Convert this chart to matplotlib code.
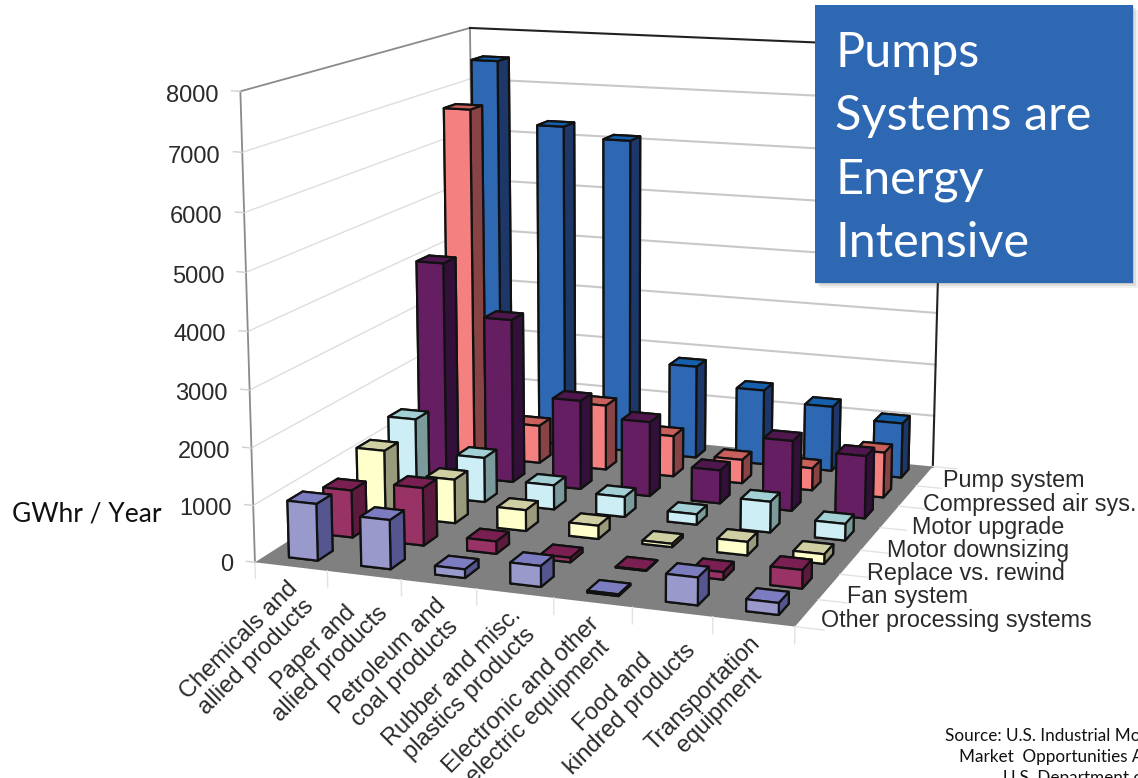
import numpy as np
import matplotlib
matplotlib.use('Agg')
import matplotlib.pyplot as plt
from mpl_toolkits.mplot3d import proj3d
from mpl_toolkits.mplot3d.art3d import Poly3DCollection

industries = ['Chemicals and\nallied products', 'Paper and\nallied products', 'Petroleum and\ncoal products',
              'Rubber and misc.\nplastics products', 'Electronic and other\nelectric equipment',
              'Food and\nkindred products', 'Transportation\nequipment']
systems = ['Other processing systems', 'Fan system', 'Replace vs. rewind', 'Motor downsizing',
           'Motor upgrade', 'Compressed air sys.', 'Pump system']

other_proc = [1000, 860, 150, 360, 30, 470, 200]
fan = [850, 1030, 220, 80, 10, 130, 320]
replace_rewind = [1200, 800, 380, 240, 60, 240, 170]
downsizing = [1430, 830, 450, 370, 190, 560, 300]
upgrade = [4070, 3100, 1680, 1400, 620, 1300, 1150]
comp_air = [6750, 730, 1250, 780, 450, 420, 850]
pump = [7500, 6300, 6100, 1800, 1450, 1250, 1050]
series = [other_proc, fan, replace_rewind, downsizing, upgrade, comp_air, pump]

front_cols = ['#9999cc', '#993366', '#ffffcc', '#cdeef5', '#661e63', '#f48080', '#2e68b3']
top_cols = ['#7c7cc0', '#7a1f52', '#cfcfa3', '#a3d0d4', '#50164e', '#c9605c', '#1560ad']
side_cols = ['#55558f', '#5c1a3c', '#99997c', '#7a9a9c', '#33103a', '#884444', '#1c3768']

W, H = 1138, 778
z_ticks = np.arange(0, 9000, 1000)
label_font = 'Liberation Sans'
label_col = '#2a2a2a'

fig = plt.figure(figsize=(W / 100, H / 100), dpi=100)
ax = fig.add_axes([34.9 / W, 84.49 / H, 1, 1], projection='3d', computed_zorder=False)
ax.set_xlim(0, 7, view_margin=0)
ax.set_ylim(0, 7, view_margin=0)
ax.set_zlim(0, 8000, view_margin=0)
ax.view_init(12.3625, -70.2147)
ax.set_proj_type('persp', focal_length=0.6188)
ax.set_box_aspect((1.1817, 1.1951, 1), zoom=1.1071)
ax.set_axis_off()


def plot_line(xs, ys, zs, col, lw, zo=2):
    ax.plot(xs, ys, zs, color=col, lw=lw, zorder=zo, clip_on=False)


# floor, wall grid and frame
floor = Poly3DCollection([[(0, 0, 0), (7, 0, 0), (7, 7, 0), (0, 7, 0)]], facecolor='#808080', edgecolor='none', zorder=1)
ax.add_collection3d(floor)
floor.set_clip_on(False)
for zt in z_ticks[1:-1]:
    plot_line([0, 0], [0, 7], [zt, zt], '#dedede', 1)
    plot_line([0, 7], [7, 7], [zt, zt], '#c8c8c8', 1.5)
plot_line([0, 0, 0], [0, 0, 7], [0, 8000, 8000], '#8a8a8a', 1.3)
plot_line([0, 0], [7, 7], [0, 8000], '#8a8a8a', 1.3)
plot_line([0, 7, 7], [7, 7, 7], [8000, 8000, 0], '#222222', 1.5)

# tick stubs around the floor
for i in range(8):
    plot_line([i, i], [0, 0], [0, -280], '#e2e2e2', 1)
for j in range(8):
    plot_line([7, 7.35], [j, j], [0, 0], '#e2e2e2', 1)
for zt in z_ticks:
    plot_line([0, -0.12], [0, 0], [zt, zt], '#d0d0d0', 1)

# back row first, left to right, so the nearer bars paint over the others
order = 3
for j in range(6, -1, -1):
    for i in range(7):
        colors = [front_cols[j], top_cols[j], front_cols[j], side_cols[j], side_cols[j], side_cols[j]]
        bar = ax.bar3d(i + 0.31, j + 0.32, 0, 0.4, 0.42, series[j][i], color=colors, shade=False,
                       edgecolor='#111111', linewidth=1.6, zorder=order)
        bar.set_clip_on(False)
        order += 1


def to_view(x, y, z):
    vx, vy, _ = proj3d.proj_transform(x, y, z, ax.get_proj())
    return vx, vy


for zt in z_ticks:
    vx, vy = to_view(-0.3, 0, zt - 100)
    ax.text2D(vx, vy, str(zt), transform=ax.transData, ha='right', va='center', fontsize=17,
              family=label_font, color=label_col)
for i, name in enumerate(industries):
    vx, vy = to_view(i + 0.44, 0, -190)
    ax.text2D(vx, vy, name, transform=ax.transData, rotation=45, rotation_mode='anchor', ha='right', va='top',
              multialignment='center', fontsize=17, family=label_font, color=label_col, linespacing=1.1)

system_x = [821, 847, 867, 887, 912, 923, 943]
for j, name in enumerate(systems):
    fig.text(system_x[j] / W, 1 - (620 - 23.2 * j) / H, name, ha='left', va='center', fontsize=16.8,
             family=label_font, color=label_col)

# call-out box with a soft shadow
for k, a in zip((5, 3, 1), (0.08, 0.12, 0.18)):
    fig.patches.append(plt.Rectangle(((815 + k) / W, 1 - (283 + k) / H), 318 / W, 278 / H, transform=fig.transFigure,
                                     facecolor='#555555', edgecolor='none', alpha=a, zorder=49))
fig.patches.append(plt.Rectangle((815 / W, 1 - 283 / H), 318 / W, 278 / H, transform=fig.transFigure,
                                 facecolor='#2e68b3', edgecolor='none', zorder=50))
fig.text(835 / W, 1 - 31 / H, 'Pumps\nSystems are\nEnergy\nIntensive', color='white', fontsize=35, family='Lato',
         va='top', linespacing=1.53, zorder=51)
fig.text(12 / W, 1 - 514 / H, 'GWhr / Year', fontsize=19, family='Lato', va='center', color='#111111')
fig.text(945 / W, 1 - 736 / H, 'Source: U.S. Industrial Motor Systems', fontsize=12.3, family='Lato', va='center', color='#111111')
fig.text(959 / W, 1 - 757 / H, 'Market  Opportunities Assessment', fontsize=12.3, family='Lato', va='center', color='#111111')
fig.text(1003 / W, 1 - 778 / H, 'U.S. Department of Energy', fontsize=12.3, family='Lato', va='center', color='#111111')

fig.savefig('out.png', dpi=100)
